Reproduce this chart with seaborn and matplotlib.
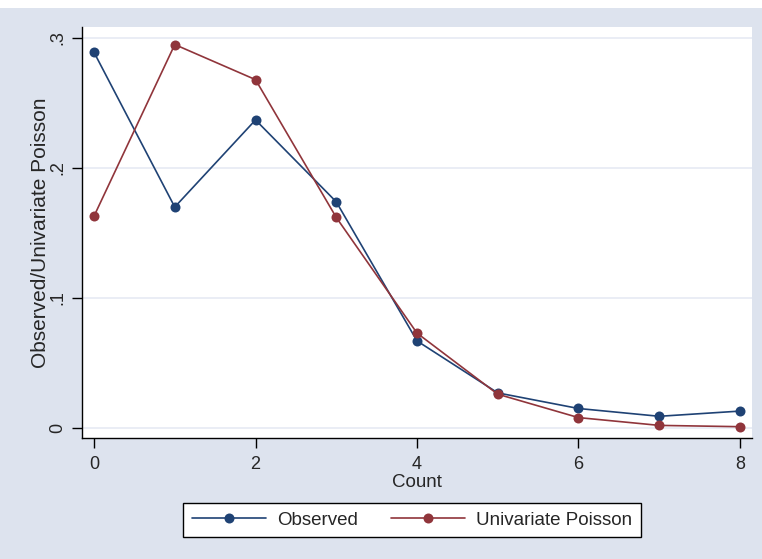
import matplotlib
matplotlib.use("Agg")
import matplotlib.pyplot as plt
import seaborn as sns
import pandas as pd
from matplotlib.patches import Rectangle
from matplotlib.lines import Line2D

counts = [0, 1, 2, 3, 4, 5, 6, 7, 8]
observed = [0.289, 0.170, 0.237, 0.174, 0.067, 0.027, 0.015, 0.009, 0.013]
poisson = [0.163, 0.295, 0.268, 0.162, 0.073, 0.026, 0.008, 0.002, 0.001]
series_names = ["Observed", "Univariate Poisson"]
ytick_vals = [0, 0.1, 0.2, 0.3]
ytick_labels = ["0", ".1", ".2", ".3"]
xtick_vals = [0, 2, 4, 6, 8]

sns.set_style("white")
plt.rcParams['font.family'] = ['Liberation Sans', 'DejaVu Sans']

df = pd.DataFrame({
    "Count": counts * 2,
    "value": observed + poisson,
    "series": [series_names[0]] * len(counts) + [series_names[1]] * len(counts),
})

bg = "#dde3ee"
fig = plt.figure(figsize=(7.62, 5.59), dpi=100, facecolor=bg)
W, H = 762, 559
# white strip at the very top
fig.patches.append(Rectangle((0, 1 - 8 / H), 1, 8 / H, transform=fig.transFigure,
                             facecolor="white", edgecolor="none", zorder=0))

left, right, top, bottom = 82, 752, 27, 438
ax = fig.add_axes([left / W, 1 - bottom / H, (right - left) / W, (bottom - top) / H])
ax.set_facecolor("white")

palette = {"Observed": "#1f4274", "Univariate Poisson": "#90353b"}
sns.lineplot(data=df, x="Count", y="value", hue="series", palette=palette,
             marker="o", markersize=7.2, markeredgewidth=0, linewidth=1.2, ax=ax,
             legend=False, zorder=3)

ax.set_xlim(-0.149, 8.149)
ax.set_ylim(-0.0077, 0.3085)
ax.set_yticks(ytick_vals)
ax.set_yticklabels(ytick_labels, rotation=90, va="center")
ax.set_xticks(xtick_vals)
ax.set_xticklabels([str(v) for v in xtick_vals])
for y in ytick_vals:
    ax.axhline(y, color="#e6eaf3", linewidth=1.2, zorder=1)

for s in ["top", "right"]:
    ax.spines[s].set_visible(False)
for s in ["left", "bottom"]:
    ax.spines[s].set_color("black")
    ax.spines[s].set_linewidth(1.0)
ax.tick_params(axis="both", direction="out", length=7, width=1, color="black",
               labelsize=13, left=True, bottom=True)
ax.tick_params(axis="x", pad=6)
ax.tick_params(axis="y", pad=4)
ax.set_xlabel("Count", fontsize=13.5, labelpad=1)
ax.set_ylabel("Observed/Univariate Poisson", fontsize=15, labelpad=0)

handles = [Line2D([0], [0], color=palette[n], marker="o", markersize=7.2,
                  markeredgewidth=0, linewidth=1.2) for n in series_names]
leg = fig.legend(handles, series_names, loc="center", ncol=2,
                 bbox_to_anchor=(412 / W, 1 - 520 / H), frameon=True,
                 fontsize=13.5, handlelength=3.95, columnspacing=1.76,
                 fancybox=False, borderpad=0.45, borderaxespad=0,
                 handletextpad=0.6)
leg.get_frame().set_edgecolor("black")
leg.get_frame().set_facecolor("white")
leg.get_frame().set_alpha(1.0)
leg.get_frame().set_linewidth(1.0)

fig.savefig("out.png", dpi=100, facecolor=bg)
